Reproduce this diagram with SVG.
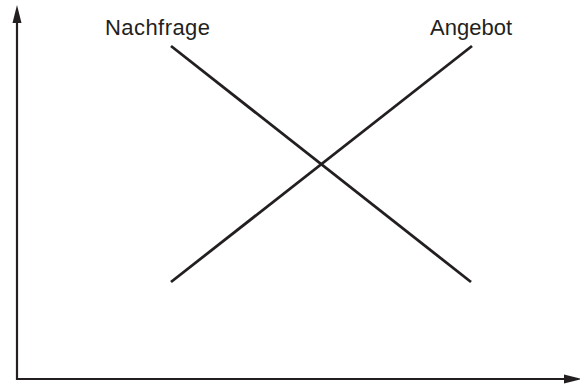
<svg xmlns="http://www.w3.org/2000/svg" width="580" height="384" viewBox="0 0 580 384">
<style>
.ax{stroke:#231f20;stroke-width:2.2;fill:none}
.ln{stroke:#231f20;stroke-width:2.8;fill:none}
.lb{font-family:"Liberation Sans",Arial,sans-serif;font-size:22px;fill:#231f20}
.ah{fill:#231f20}
</style>
<rect width="580" height="384" fill="#fff"/>
<g id="axes">
<line class="ax" x1="17" y1="380" x2="17" y2="22"/>
<polygon class="ah" points="17,5 12.5,23 21.5,23"/>
<line class="ax" x1="16" y1="379" x2="566" y2="379"/>
<polygon class="ah" points="582,379 564,374.5 564,383.5"/>
</g>
<g id="connectors">
<line class="ln" x1="171" y1="46" x2="471" y2="282"/>
<line class="ln" x1="171" y1="282" x2="472" y2="46"/>
</g>
<g id="nachfrage"><text class="lb" x="105" y="35" textLength="105" lengthAdjust="spacing">Nachfrage</text></g>
<g id="angebot"><text class="lb" x="430" y="35" textLength="82" lengthAdjust="spacing">Angebot</text></g>
</svg>
